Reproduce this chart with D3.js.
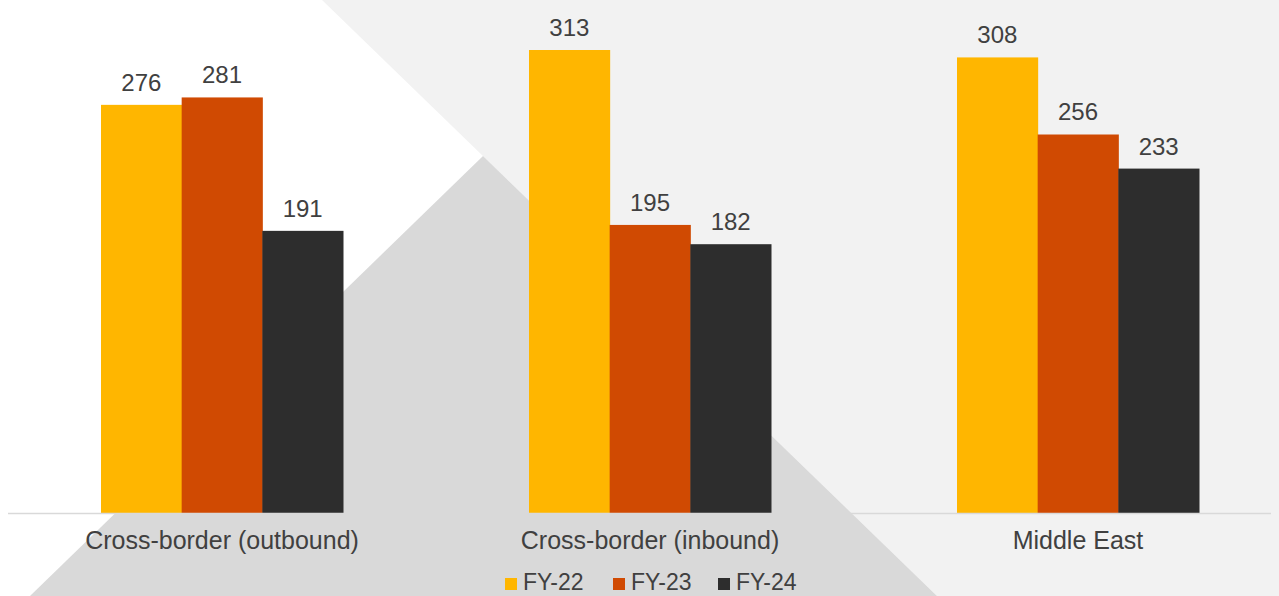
<!DOCTYPE html>
<html>
  <head>
    <meta charset="UTF-8">
    <title>Deal volumes by region</title>
    <style>
      body { margin: 0; background: #fff; }
      svg { display: block; }
      text { font-family: "Liberation Sans", Arial, sans-serif; fill: #404040; }
      .axis path, .axis line { display: none; }
    </style>
  </head>
  <body>
<svg width="1279" height="596"></svg>
<script src="https://d3js.org/d3.v7.min.js"></script>
<script>

var categories = ["Cross-border (outbound)", "Cross-border (inbound)", "Middle East"];
var seriesNames = ["FY-22", "FY-23", "FY-24"];
var fy22 = [276, 313, 308];
var fy23 = [281, 195, 256];
var fy24 = [191, 182, 233];
var colors = ["#ffb600", "#d04a02", "#2d2d2d"];

var svg = d3.select("svg"),
    width = +svg.attr("width"),
    height = +svg.attr("height"),
    baseline = 514;

// background shapes
svg.append("polygon")
    .attr("points", "322,0 1279,0 1279,596 937,596")
    .attr("fill", "#f2f2f2");
svg.append("polygon")
    .attr("points", "483,156 30,596 937,596")
    .attr("fill", "#d9d9d9");

var data = categories.map(function(c, i) {
  return {cat: c, values: [fy22[i], fy23[i], fy24[i]]};
});

var x0 = d3.scaleBand()
    .domain(categories)
    .range([8, 1292])
    .paddingInner(0.4346)
    .paddingOuter(0.2173);

var x1 = d3.scaleBand()
    .domain(seriesNames)
    .range([0, x0.bandwidth()]);

var y = d3.scaleLinear()
    .domain([0, 313])
    .range([baseline, 50]);

var groups = svg.selectAll(".group")
    .data(data)
  .enter().append("g")
    .attr("class", "group")
    .attr("transform", function(d) { return "translate(" + x0(d.cat) + ",0)"; });

var bars = groups.selectAll("g")
    .data(function(d) {
      return d.values.map(function(v, i) { return {key: seriesNames[i], value: v, i: i}; });
    })
  .enter().append("g");

bars.append("rect")
    .attr("x", function(d) { return x1(d.key); })
    .attr("y", function(d) { return y(d.value); })
    .attr("width", x1.bandwidth() + 0.5)
    .attr("height", function(d) { return baseline - y(d.value); })
    .attr("fill", function(d) { return colors[d.i]; });

bars.append("text")
    .attr("x", function(d) { return x1(d.key) + x1.bandwidth() / 2; })
    .attr("y", function(d) { return y(d.value) - 14; })
    .attr("text-anchor", "middle")
    .style("font-size", "24px")
    .text(function(d) { return d.value; });

// axis line
svg.append("line")
    .attr("x1", 8)
    .attr("x2", 1271)
    .attr("y1", 513.5)
    .attr("y2", 513.5)
    .attr("stroke", "#d9d9d9")
    .attr("stroke-width", 1.5);

var xAxis = svg.append("g")
    .attr("class", "axis")
    .attr("transform", "translate(0," + 513 + ")")
    .call(d3.axisBottom(x0).tickSize(0).tickPadding(0));

xAxis.selectAll("text")
    .attr("y", 36)
    .attr("dy", 0)
    .style("font-size", "25px")
    .style("font-family", "'Liberation Sans', Arial, sans-serif")
    .attr("fill", "#404040");

// legend
var legendX = [505, 613, 718];
var legend = svg.selectAll(".legend")
    .data(seriesNames)
  .enter().append("g")
    .attr("class", "legend")
    .attr("transform", function(d, i) { return "translate(" + legendX[i] + ",0)"; });

legend.append("rect")
    .attr("x", 0)
    .attr("y", 578)
    .attr("width", 12)
    .attr("height", 12)
    .attr("fill", function(d, i) { return colors[i]; });

legend.append("text")
    .attr("x", 18)
    .attr("y", 590)
    .style("font-size", "23px")
    .text(function(d) { return d; });

</script>
  </body>
</html>
